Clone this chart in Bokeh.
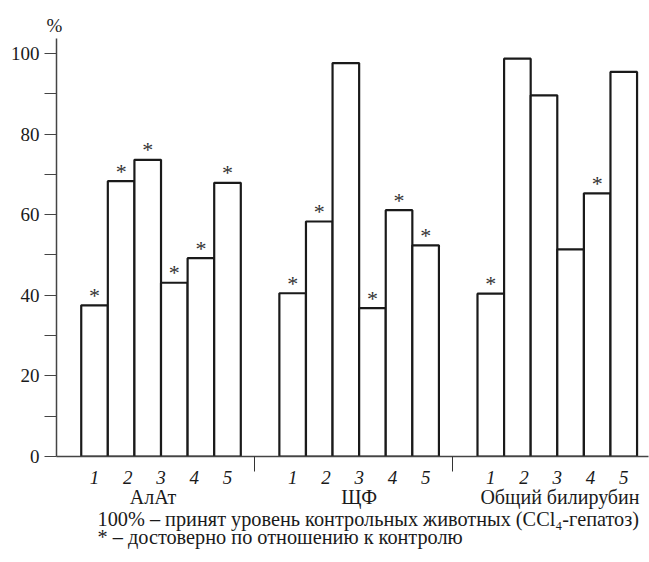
from bokeh.plotting import figure
from bokeh.models import Range1d, FixedTicker, LinearAxis, CustomJSTickFormatter, Title, ColumnDataSource
from bokeh.core.properties import value
from bokeh.embed import file_html
from bokeh.resources import INLINE

# ---- data ----
groups = ["АлАт", "ЩФ", "Общий билирубин"]
bar_labels = ["1", "2", "3", "4", "5"]
alat = [37.5, 68.3, 73.6, 43.1, 49.2, 67.9]
alat_sig = [1, 1, 1, 1, 1, 1]
shchf = [40.5, 58.3, 97.6, 36.8, 61.1, 52.4]
shchf_sig = [1, 1, 0, 1, 1, 1]
bili = [40.4, 98.7, 89.6, 51.4, 65.3, 95.4]
bili_sig = [1, 0, 0, 0, 1, 0]
y_ticks = [0, 20, 40, 60, 80, 100]
y_minor = [10, 30, 50, 70, 90]
y_unit = "%"
note1 = "100% – принят уровень контрольных животных (CCl₄-гепатоз)"
note2 = "* – достоверно по отношению к контролю"

series = [alat, shchf, bili]
sigs = [alat_sig, shchf_sig, bili_sig]

# ---- layout helpers ----
GROUP_STEP = 7.45
FONT = "Liberation Serif"
INK = "#1a1a1a"

xs, tops, star_x, star_y = [], [], [], []
for g, (vals, sg) in enumerate(zip(series, sigs)):
    for i, (v, s) in enumerate(zip(vals, sg)):
        cx = g * GROUP_STEP + i + 0.5
        xs.append(cx)
        tops.append(v)
        if s:
            star_x.append(cx)
            star_y.append(v)

group_centers = [g * GROUP_STEP + 3 for g in range(len(groups))]
label_shift = [-0.3, 0.0, 0.1]
group_label_pos = [c + s for c, s in zip(group_centers, label_shift)]
num_ticks = [c + (k - 2) * 1.25 for c in group_centers for k in range(len(bar_labels))]
separators = [g * GROUP_STEP + 6.5 for g in range(len(groups) - 1)]

p = figure(width=649, height=562, output_backend="svg", toolbar_location=None,
           x_range=Range1d(-0.93, 21.33), y_range=Range1d(0, 103.7),
           x_axis_location=None,
           min_border_left=56, min_border_right=1, min_border_top=38, min_border_bottom=106)
p.outline_line_color = None
p.grid.visible = False
p.background_fill_color = "white"
p.border_fill_color = "white"

src = ColumnDataSource(dict(x=xs, top=tops))
p.vbar(x="x", width=1, top="top", bottom=0, source=src,
       fill_color="white", line_color=INK, line_width=2.2)

ssrc = ColumnDataSource(dict(x=star_x, y=star_y, t=["*"] * len(star_x)))
p.text(x="x", y="y", text="t", source=ssrc, text_align="center", text_baseline="alphabetic",
       y_offset=-10, text_font=value(FONT), text_font_size="22px", text_color="#333")

# y axis
ya = p.yaxis[0]
ya.ticker = FixedTicker(ticks=y_ticks, minor_ticks=y_minor)
ya.major_tick_out = 12
ya.major_tick_in = 0
ya.minor_tick_out = 12
ya.minor_tick_in = 0
ya.major_tick_line_color = "#444"
ya.minor_tick_line_color = "#444"
ya.axis_line_color = "#444"
ya.axis_line_width = 1.5
ya.major_label_text_font = FONT
ya.major_label_text_font_size = "19px"
ya.major_label_text_color = INK
ya.major_label_standoff = 5

# x axis: bar numbers + separators
xa = LinearAxis(ticker=FixedTicker(ticks=num_ticks, minor_ticks=separators),
                formatter=CustomJSTickFormatter(args=dict(labels=bar_labels),
                                                code="return labels[index % labels.length]"))
xa.major_tick_out = 0
xa.major_tick_in = 0
xa.minor_tick_out = 15
xa.minor_tick_in = 0
xa.minor_tick_line_color = "#333"
xa.axis_line_color = "#444"
xa.axis_line_width = 1.5
xa.major_label_text_font = FONT
xa.major_label_text_font_style = "italic"
xa.major_label_text_font_size = "19px"
xa.major_label_text_color = INK
xa.major_label_standoff = -1
p.add_layout(xa, "below")

# x axis: group names
ga = LinearAxis(ticker=FixedTicker(ticks=group_label_pos, minor_ticks=[]),
                formatter=CustomJSTickFormatter(args=dict(labels=groups),
                                                code="return labels[index]"))
ga.axis_line_color = None
ga.major_tick_line_color = None
ga.minor_tick_line_color = None
ga.major_tick_out = 0
ga.major_tick_in = 0
ga.major_label_text_font = FONT
ga.major_label_text_font_size = "20px"
ga.major_label_text_color = INK
ga.major_label_standoff = -1
p.add_layout(ga, "below")

# "%" unit label above the y axis
p.add_layout(Title(text=y_unit, align="left", offset=-10, standoff=6,
                   text_font=FONT, text_font_size="19px", text_font_style="normal",
                   text_color=INK), "above")

# footnotes
p.add_layout(Title(text=note1, align="left", offset=41, standoff=-10,
                   text_font=FONT, text_font_size="20.3px", text_font_style="normal",
                   text_color=INK), "below")
p.add_layout(Title(text=note2, align="left", offset=41, standoff=-2,
                   text_font=FONT, text_font_size="20.3px", text_font_style="normal",
                   text_color=INK), "below")

open("out.html", "w").write(file_html(p, INLINE))
